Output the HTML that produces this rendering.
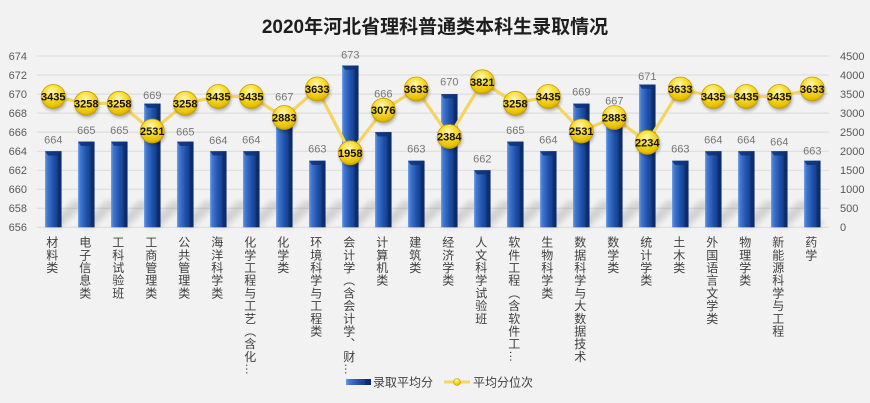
<!DOCTYPE html>
<html><head><meta charset="utf-8">
<style>
html,body{margin:0;padding:0;background:#f2f2f2;}
#wrap{position:relative;width:870px;height:403px;overflow:hidden;background:#f2f2f2;font-family:"Liberation Sans","Noto Sans CJK SC",sans-serif;}
svg{position:absolute;left:0;top:0;}
.xl{position:absolute;top:236px;width:14px;writing-mode:vertical-rl;font-size:12px;line-height:14px;letter-spacing:0.7px;color:#404040;font-family:"Liberation Sans","Noto Sans CJK SC",sans-serif;white-space:nowrap;}
</style></head><body>
<div id="wrap">
<svg width="870" height="403" viewBox="0 0 870 403" xmlns="http://www.w3.org/2000/svg" font-family="Liberation Sans, Noto Sans CJK SC, sans-serif">
<defs>
<linearGradient id="bg" x1="0" y1="0" x2="1" y2="0">
<stop offset="0" stop-color="#6b9be6"/>
<stop offset="0.14" stop-color="#4178d0"/>
<stop offset="0.5" stop-color="#2152aa"/>
<stop offset="0.74" stop-color="#17408f"/>
<stop offset="0.78" stop-color="#0d3074"/>
<stop offset="1" stop-color="#0a2966"/>
</linearGradient>
<radialGradient id="mg" cx="0.45" cy="0.3" r="0.75">
<stop offset="0" stop-color="#fff8b8"/>
<stop offset="0.35" stop-color="#fbe042"/>
<stop offset="0.8" stop-color="#e8c000"/>
<stop offset="1" stop-color="#b89400"/>
</radialGradient>
<filter id="blur" x="-50%" y="-50%" width="200%" height="200%"><feGaussianBlur stdDeviation="3"/></filter>
<filter id="blur2" x="-50%" y="-50%" width="200%" height="200%"><feGaussianBlur stdDeviation="1.5"/></filter>
</defs>

<text x="435" y="33" text-anchor="middle" font-size="19" font-weight="bold" fill="#1e1e1e">2020年河北省理科普通类本科生录取情况</text>

<g stroke="#d9d9d9" stroke-width="1">
<line x1="36.8" x2="828.8" y1="56" y2="56"/>
<line x1="36.8" x2="828.8" y1="75" y2="75"/>
<line x1="36.8" x2="828.8" y1="94.1" y2="94.1"/>
<line x1="36.8" x2="828.8" y1="113.1" y2="113.1"/>
<line x1="36.8" x2="828.8" y1="132.1" y2="132.1"/>
<line x1="36.8" x2="828.8" y1="151.2" y2="151.2"/>
<line x1="36.8" x2="828.8" y1="170.2" y2="170.2"/>
<line x1="36.8" x2="828.8" y1="189.2" y2="189.2"/>
<line x1="36.8" x2="828.8" y1="208.3" y2="208.3"/>
<line x1="36.8" x2="828.8" y1="227.3" y2="227.3"/>
</g>

<g font-size="11" fill="#595959" text-anchor="end">
<text x="27" y="60">674</text>
<text x="27" y="79">672</text>
<text x="27" y="98">670</text>
<text x="27" y="117">668</text>
<text x="27" y="136">666</text>
<text x="27" y="155">664</text>
<text x="27" y="174">662</text>
<text x="27" y="193">660</text>
<text x="27" y="212">658</text>
<text x="27" y="231">656</text>
</g>
<g font-size="11" fill="#595959" text-anchor="start">
<text x="840" y="60">4500</text>
<text x="840" y="79">4000</text>
<text x="840" y="98">3500</text>
<text x="840" y="117">3000</text>
<text x="840" y="136">2500</text>
<text x="840" y="155">2000</text>
<text x="840" y="174">1500</text>
<text x="840" y="193">1000</text>
<text x="840" y="212">500</text>
<text x="840" y="231">0</text>
</g>

<g fill="#000" opacity="0.13" filter="url(#blur)">
<polygon points="45,227 61,227 89,201 73,201"/>
<polygon points="78,227 94,227 122,201 106,201"/>
<polygon points="111,227 127,227 155,201 139,201"/>
<polygon points="144,227 160,227 188,201 172,201"/>
<polygon points="177,227 193,227 221,201 205,201"/>
<polygon points="210,227 226,227 254,201 238,201"/>
<polygon points="243,227 259,227 287,201 271,201"/>
<polygon points="276,227 292,227 320,201 304,201"/>
<polygon points="309,227 325,227 353,201 337,201"/>
<polygon points="342,227 358,227 386,201 370,201"/>
<polygon points="375,227 391,227 419,201 403,201"/>
<polygon points="408,227 424,227 452,201 436,201"/>
<polygon points="441,227 457,227 485,201 469,201"/>
<polygon points="474,227 490,227 518,201 502,201"/>
<polygon points="507,227 523,227 551,201 535,201"/>
<polygon points="540,227 556,227 584,201 568,201"/>
<polygon points="573,227 589,227 617,201 601,201"/>
<polygon points="606,227 622,227 650,201 634,201"/>
<polygon points="639,227 655,227 683,201 667,201"/>
<polygon points="672,227 688,227 716,201 700,201"/>
<polygon points="705,227 721,227 749,201 733,201"/>
<polygon points="738,227 754,227 782,201 766,201"/>
<polygon points="771,227 787,227 815,201 799,201"/>
<polygon points="804,227 820,227 826,221 810,221"/>
</g>

<g fill="url(#bg)">
<rect x="45.05" y="151.2" width="16.5" height="76.1"/>
<rect x="78.05" y="141.6" width="16.5" height="85.7"/>
<rect x="111.05" y="141.6" width="16.5" height="85.7"/>
<rect x="144.05" y="103.6" width="16.5" height="123.7"/>
<rect x="177.05" y="141.6" width="16.5" height="85.7"/>
<rect x="210.05" y="151.2" width="16.5" height="76.1"/>
<rect x="243.05" y="151.2" width="16.5" height="76.1"/>
<rect x="276.05" y="122.6" width="16.5" height="104.7"/>
<rect x="309.05" y="160.7" width="16.5" height="66.6"/>
<rect x="342.05" y="65.5" width="16.5" height="161.8"/>
<rect x="375.05" y="132.1" width="16.5" height="95.2"/>
<rect x="408.05" y="160.7" width="16.5" height="66.6"/>
<rect x="441.05" y="94.1" width="16.5" height="133.2"/>
<rect x="474.05" y="170.2" width="16.5" height="57.1"/>
<rect x="507.05" y="141.6" width="16.5" height="85.7"/>
<rect x="540.05" y="151.2" width="16.5" height="76.1"/>
<rect x="573.05" y="103.6" width="16.5" height="123.7"/>
<rect x="606.05" y="122.6" width="16.5" height="104.7"/>
<rect x="639.05" y="84.5" width="16.5" height="142.8"/>
<rect x="672.05" y="160.7" width="16.5" height="66.6"/>
<rect x="705.05" y="151.2" width="16.5" height="76.1"/>
<rect x="738.05" y="151.2" width="16.5" height="76.1"/>
<rect x="771.05" y="151.2" width="16.5" height="76.1"/>
<rect x="804.05" y="160.7" width="16.5" height="66.6"/>
</g>
<g fill="#0e3278" opacity="0.85">
<polygon points="45.05,151.2 61.55,151.2 58.5,155.5 48,155.5"/>
<polygon points="78.05,141.6 94.55,141.6 91.5,145.9 81,145.9"/>
<polygon points="111.05,141.6 127.55,141.6 124.5,145.9 114,145.9"/>
<polygon points="144.05,103.6 160.55,103.6 157.5,107.9 147,107.9"/>
<polygon points="177.05,141.6 193.55,141.6 190.5,145.9 180,145.9"/>
<polygon points="210.05,151.2 226.55,151.2 223.5,155.5 213,155.5"/>
<polygon points="243.05,151.2 259.55,151.2 256.5,155.5 246,155.5"/>
<polygon points="276.05,122.6 292.55,122.6 289.5,126.9 279,126.9"/>
<polygon points="309.05,160.7 325.55,160.7 322.5,165 312,165"/>
<polygon points="342.05,65.5 358.55,65.5 355.5,69.8 345,69.8"/>
<polygon points="375.05,132.1 391.55,132.1 388.5,136.4 378,136.4"/>
<polygon points="408.05,160.7 424.55,160.7 421.5,165 411,165"/>
<polygon points="441.05,94.1 457.55,94.1 454.5,98.4 444,98.4"/>
<polygon points="474.05,170.2 490.55,170.2 487.5,174.5 477,174.5"/>
<polygon points="507.05,141.6 523.55,141.6 520.5,145.9 510,145.9"/>
<polygon points="540.05,151.2 556.55,151.2 553.5,155.5 543,155.5"/>
<polygon points="573.05,103.6 589.55,103.6 586.5,107.9 576,107.9"/>
<polygon points="606.05,122.6 622.55,122.6 619.5,126.9 609,126.9"/>
<polygon points="639.05,84.5 655.55,84.5 652.5,88.8 642,88.8"/>
<polygon points="672.05,160.7 688.55,160.7 685.5,165 675,165"/>
<polygon points="705.05,151.2 721.55,151.2 718.5,155.5 708,155.5"/>
<polygon points="738.05,151.2 754.55,151.2 751.5,155.5 741,155.5"/>
<polygon points="771.05,151.2 787.55,151.2 784.5,155.5 774,155.5"/>
<polygon points="804.05,160.7 820.55,160.7 817.5,165 807,165"/>
</g>

<g font-size="11" fill="#767676" text-anchor="middle">
<text x="53.3" y="143.3">664</text>
<text x="86.3" y="134">665</text>
<text x="119.3" y="134">665</text>
<text x="152.3" y="99">669</text>
<text x="185.3" y="135.7">665</text>
<text x="218.3" y="144">664</text>
<text x="251.3" y="143.3">664</text>
<text x="284.3" y="100.7">667</text>
<text x="317.3" y="152.3">663</text>
<text x="350.3" y="58.3">673</text>
<text x="383.3" y="97.3">666</text>
<text x="416.3" y="152.3">663</text>
<text x="449.3" y="85.7">670</text>
<text x="482.3" y="162.3">662</text>
<text x="515.3" y="134">665</text>
<text x="548.3" y="143.3">664</text>
<text x="581.3" y="95.7">669</text>
<text x="614.3" y="104.7">667</text>
<text x="647.3" y="80">671</text>
<text x="680.3" y="152.3">663</text>
<text x="713.3" y="143.3">664</text>
<text x="746.3" y="143.3">664</text>
<text x="779.3" y="145.7">664</text>
<text x="812.3" y="154.7">663</text>
</g>

<polyline fill="none" stroke="#f5d462" stroke-width="3.2" stroke-linejoin="round" points="53.3,96.5 86.3,103.3 119.3,103.3 152.3,131.0 185.3,103.3 218.3,96.5 251.3,96.5 284.3,117.5 317.3,89.0 350.3,152.8 383.3,110.2 416.3,89.0 449.3,136.5 482.3,81.8 515.3,103.3 548.3,96.5 581.3,131.0 614.3,117.5 647.3,142.3 680.3,89.0 713.3,96.5 746.3,96.5 779.3,96.5 812.3,89.0"/>

<g fill="#000" opacity="0.28" filter="url(#blur2)">
<circle cx="54.3" cy="99" r="12"/><circle cx="87.3" cy="105.8" r="12"/><circle cx="120.3" cy="105.8" r="12"/><circle cx="153.3" cy="133.5" r="12"/><circle cx="186.3" cy="105.8" r="12"/><circle cx="219.3" cy="99" r="12"/><circle cx="252.3" cy="99" r="12"/><circle cx="285.3" cy="120" r="12"/><circle cx="318.3" cy="91.5" r="12"/><circle cx="351.3" cy="155.3" r="12"/><circle cx="384.3" cy="112.7" r="12"/><circle cx="417.3" cy="91.5" r="12"/><circle cx="450.3" cy="139" r="12"/><circle cx="483.3" cy="84.3" r="12"/><circle cx="516.3" cy="105.8" r="12"/><circle cx="549.3" cy="99" r="12"/><circle cx="582.3" cy="133.5" r="12"/><circle cx="615.3" cy="120" r="12"/><circle cx="648.3" cy="144.8" r="12"/><circle cx="681.3" cy="91.5" r="12"/><circle cx="714.3" cy="99" r="12"/><circle cx="747.3" cy="99" r="12"/><circle cx="780.3" cy="99" r="12"/><circle cx="813.3" cy="91.5" r="12"/>
</g>
<g fill="url(#mg)" stroke="#c49c00" stroke-width="0.8">
<circle cx="53.3" cy="96.5" r="12"/><circle cx="86.3" cy="103.3" r="12"/><circle cx="119.3" cy="103.3" r="12"/><circle cx="152.3" cy="131" r="12"/><circle cx="185.3" cy="103.3" r="12"/><circle cx="218.3" cy="96.5" r="12"/><circle cx="251.3" cy="96.5" r="12"/><circle cx="284.3" cy="117.5" r="12"/><circle cx="317.3" cy="89" r="12"/><circle cx="350.3" cy="152.8" r="12"/><circle cx="383.3" cy="110.2" r="12"/><circle cx="416.3" cy="89" r="12"/><circle cx="449.3" cy="136.5" r="12"/><circle cx="482.3" cy="81.8" r="12"/><circle cx="515.3" cy="103.3" r="12"/><circle cx="548.3" cy="96.5" r="12"/><circle cx="581.3" cy="131" r="12"/><circle cx="614.3" cy="117.5" r="12"/><circle cx="647.3" cy="142.3" r="12"/><circle cx="680.3" cy="89" r="12"/><circle cx="713.3" cy="96.5" r="12"/><circle cx="746.3" cy="96.5" r="12"/><circle cx="779.3" cy="96.5" r="12"/><circle cx="812.3" cy="89" r="12"/>
</g>
<g font-size="11" font-weight="bold" fill="#111" text-anchor="middle">
<text x="53.3" y="100.5">3435</text>
<text x="86.3" y="107.3">3258</text>
<text x="119.3" y="107.3">3258</text>
<text x="152.3" y="135">2531</text>
<text x="185.3" y="107.3">3258</text>
<text x="218.3" y="100.5">3435</text>
<text x="251.3" y="100.5">3435</text>
<text x="284.3" y="121.5">2883</text>
<text x="317.3" y="93">3633</text>
<text x="350.3" y="156.8">1958</text>
<text x="383.3" y="114.2">3076</text>
<text x="416.3" y="93">3633</text>
<text x="449.3" y="140.5">2384</text>
<text x="482.3" y="85.8">3821</text>
<text x="515.3" y="107.3">3258</text>
<text x="548.3" y="100.5">3435</text>
<text x="581.3" y="135">2531</text>
<text x="614.3" y="121.5">2883</text>
<text x="647.3" y="146.3">2234</text>
<text x="680.3" y="93">3633</text>
<text x="713.3" y="100.5">3435</text>
<text x="746.3" y="100.5">3435</text>
<text x="779.3" y="100.5">3435</text>
<text x="812.3" y="93">3633</text>
</g>

<rect x="346" y="379" width="25" height="6" fill="url(#bg)"/>
<text x="373" y="386.5" font-size="12" fill="#404040">录取平均分</text>
<line x1="444" y1="382" x2="470" y2="382" stroke="#f5d462" stroke-width="3"/>
<circle cx="457" cy="382" r="3.5" fill="url(#mg)" stroke="#c49c00" stroke-width="0.6"/>
<text x="473" y="386.5" font-size="12" fill="#404040">平均分位次</text>
</svg>

<div class="xl" style="left:44.8px">材料类</div>
<div class="xl" style="left:77.8px">电子信息类</div>
<div class="xl" style="left:110.8px">工科试验班</div>
<div class="xl" style="left:143.8px">工商管理类</div>
<div class="xl" style="left:176.8px">公共管理类</div>
<div class="xl" style="left:209.8px">海洋科学类</div>
<div class="xl" style="left:242.8px">化学工程与工艺（含化…</div>
<div class="xl" style="left:275.8px">化学类</div>
<div class="xl" style="left:308.8px">环境科学与工程类</div>
<div class="xl" style="left:341.8px">会计学（含会计学、财…</div>
<div class="xl" style="left:374.8px">计算机类</div>
<div class="xl" style="left:407.8px">建筑类</div>
<div class="xl" style="left:440.8px">经济学类</div>
<div class="xl" style="left:473.8px">人文科学试验班</div>
<div class="xl" style="left:506.8px">软件工程（含软件工…</div>
<div class="xl" style="left:539.8px">生物科学类</div>
<div class="xl" style="left:572.8px">数据科学与大数据技术</div>
<div class="xl" style="left:605.8px">数学类</div>
<div class="xl" style="left:638.8px">统计学类</div>
<div class="xl" style="left:671.8px">土木类</div>
<div class="xl" style="left:704.8px">外国语言文学类</div>
<div class="xl" style="left:737.8px">物理学类</div>
<div class="xl" style="left:770.8px">新能源科学与工程</div>
<div class="xl" style="left:803.8px">药学</div>
</div>
</body></html>
